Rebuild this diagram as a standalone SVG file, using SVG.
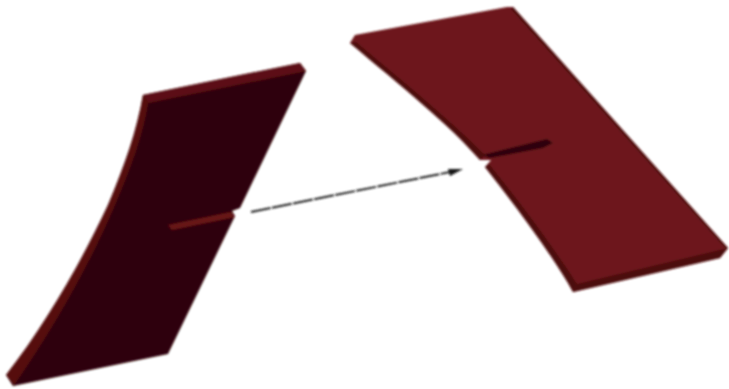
<svg xmlns="http://www.w3.org/2000/svg" width="729" height="389" viewBox="0 0 729 389">
<style>
.arrow{fill:none;stroke:#222;stroke-width:2;stroke-dasharray:20 1.5}
.edge{fill:#4c0b0e}
</style>
<defs>
<filter id="b" filterUnits="userSpaceOnUse" x="0" y="0" width="729" height="389"><feGaussianBlur stdDeviation="0.8"/></filter>
<marker id="ah" markerUnits="userSpaceOnUse" markerWidth="16" markerHeight="12" refX="15" refY="6" orient="auto"><path d="M0 1L15 6L1 11Z" fill="#161616"/></marker>
</defs>
<rect width="729" height="389" fill="#fff"/>
<g id="left-panel" filter="url(#b)">
<path fill="#2e0507" d="M143 95L300 63L306 71L240 208L232 211L235 216L168 354L13 386L6 375C45 325 80 265 108 205C125 165 137 130 143 95Z"/>
<path fill="#5c0f12" d="M143 95L300 63L306 71L148 103Z"/>
<path fill="#570e11" d="M143 95L148 103C143 135 130 170 114 207C88 268 52 330 14 385L6 375C45 325 80 265 108 205C125 165 137 130 143 95Z"/>
<path fill="#681316" d="M168 225L231 212L235 217L172 230Z"/>
</g>
<g id="right-panel" filter="url(#b)">
<path fill="#6d181a" d="M350 43L355 35L507 7L513 7L728 248L720 258L573 292L568 283C545 245 515 205 485 167L491 160L480 160C450 125 400 85 350 43Z"/>
<path class="edge" d="M350 43L356 42C405 83 450 120 485 155L480 160C450 125 400 85 350 43Z"/>
<path class="edge" d="M485 167L489 164C522 205 552 245 577 284L573 292L568 283C545 245 515 205 485 167Z"/>
<path class="edge" d="M573 292L577 284L728 248L720 258Z"/>
<path class="edge" d="M513 7L728 248L726 249L511 9Z"/>
<path fill="#2f0608" d="M482 155L547 139L553 143L543 148L490 158Z"/>
</g>
<g id="connectors" filter="url(#b)">
<path class="arrow" d="M251 212L450 172"/>
<path d="M448 169L463 169L450 176Z" fill="#161616"/>
</g>
</svg>
